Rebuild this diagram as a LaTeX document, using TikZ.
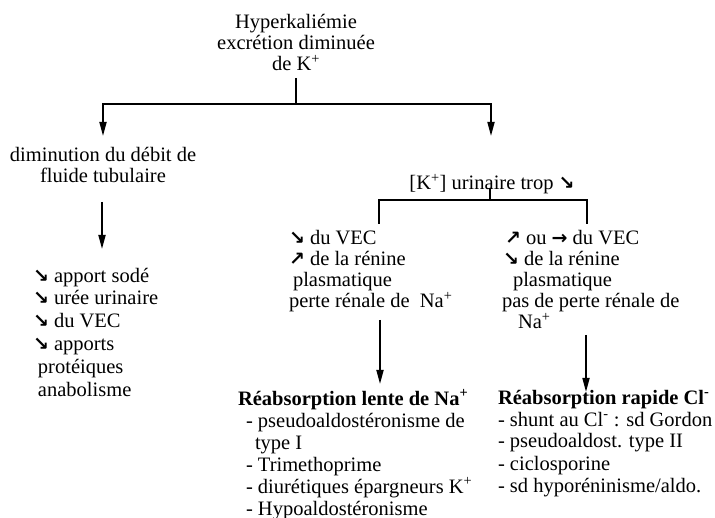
\documentclass[tikz,border=0pt]{standalone}
\usepackage{fontspec}
\setmainfont{Liberation Serif}
\newfontfamily\arrfont{DejaVu Sans}
\usetikzlibrary{arrows.meta}
\newcommand{\dn}{{\arrfont\bfseries\fontsize{19}{19}\selectfont ↘}}
\newcommand{\up}{{\arrfont\bfseries\fontsize{19}{19}\selectfont ↗}}
\newcommand{\rt}{{\arrfont\bfseries\fontsize{19}{19}\selectfont →}}
\newcommand{\sps}[1]{\textsuperscript{#1}}
\begin{document}
\begin{tikzpicture}[x=1pt,y=-1pt,
  txt/.style={inner sep=0pt,outer sep=0pt,font=\fontsize{20.5}{21}\selectfont},
  lst/.style={inner sep=0pt,outer sep=0pt,align=left,font=\fontsize{20.5}{22}\selectfont},
  lst3/.style={inner sep=0pt,outer sep=0pt,align=left,font=\fontsize{20.5}{23}\selectfont},
  ln/.style={line width=1.7pt,black},
  arr/.style={line width=1.7pt,black,-{Triangle[length=14pt,width=7pt]}}]
\useasboundingbox (0,0) rectangle (715,518);
% nodes (anchor=base is the baseline of the last line)
\node[txt,align=center,anchor=base] (top) at (296,71)
  {Hyperkaliémie\\excrétion diminuée\\de K\sps{+}};
\node[txt,align=center,anchor=base] (debit) at (103,183)
  {diminution du débit de\\fluide tubulaire};
\node[txt,anchor=base] (kur) at (492,190) {[K\sps{+}] urinaire trop \dn};
\node[lst3,anchor=base west] (llist) at (33,397)
  {\dn\ apport sodé\\\dn\ urée urinaire\\\dn\ du VEC\\\dn\ apports\\\hspace*{5pt}protéiques\\\hspace*{5pt}anabolisme};
\node[txt,align=left,anchor=base west] (mid) at (289,308)
  {\dn\ du VEC\\\up\ de la rénine\\\hspace*{4pt}plasmatique\\perte rénale de\ \ Na\sps{+}};
\node[txt,align=left,anchor=base west] (rgt) at (502,329)
  {\hspace*{3pt}\up\ ou \rt\ du VEC\\\hspace*{1pt}\dn\ de la rénine\\\hspace*{11pt}plasmatique\\pas de perte rénale de\\\hspace*{16pt}Na\sps{+}};
\node[lst,anchor=base west] (lente) at (238,515)
  {\textbf{Réabsorption lente de Na\sps{+}}\\
   \hspace*{8pt}- pseudoaldostéronisme de\\
   \hspace*{17pt}type I\\
   \hspace*{8pt}- Trimethoprime\\
   \hspace*{8pt}- diurétiques épargneurs K\sps{+}\\
   \hspace*{8pt}- Hypoaldostéronisme};
\node[lst,anchor=base west] (rapide) at (498,492)
  {\textbf{Réabsorption rapide Cl\sps{-}}\\
   - shunt au Cl\sps{-} : sd Gordon\\
   - pseudoaldost. type II\\
   - ciclosporine\\
   - sd hyporéninisme/aldo.};
% connector points
\coordinate (s1) at (296,78);
\coordinate (j1) at (296,104);
\coordinate (aL) at (103,136);
\coordinate (aR) at (491,136);
\coordinate (d1) at (102,202);
\coordinate (d2) at (102,249);
\coordinate (s2) at (490,188);
\coordinate (j2) at (490,200);
\coordinate (vL) at (379,224);
\coordinate (vR) at (587,224);
\coordinate (m1) at (380,320);
\coordinate (m2) at (380,384);
\coordinate (r1) at (586,335);
\coordinate (r2) at (586,392);
% connectors
\draw[ln] (s1) -- (j1);
\draw[arr] (j1) -| (aL);
\draw[arr] (j1) -| (aR);
\draw[arr] (d1) -- (d2);
\draw[ln] (s2) -- (j2);
\draw[ln] (j2) -| (vL);
\draw[ln] (j2) -| (vR);
\draw[arr] (m1) -- (m2);
\draw[arr] (r1) -- (r2);
\end{tikzpicture}
\end{document}
